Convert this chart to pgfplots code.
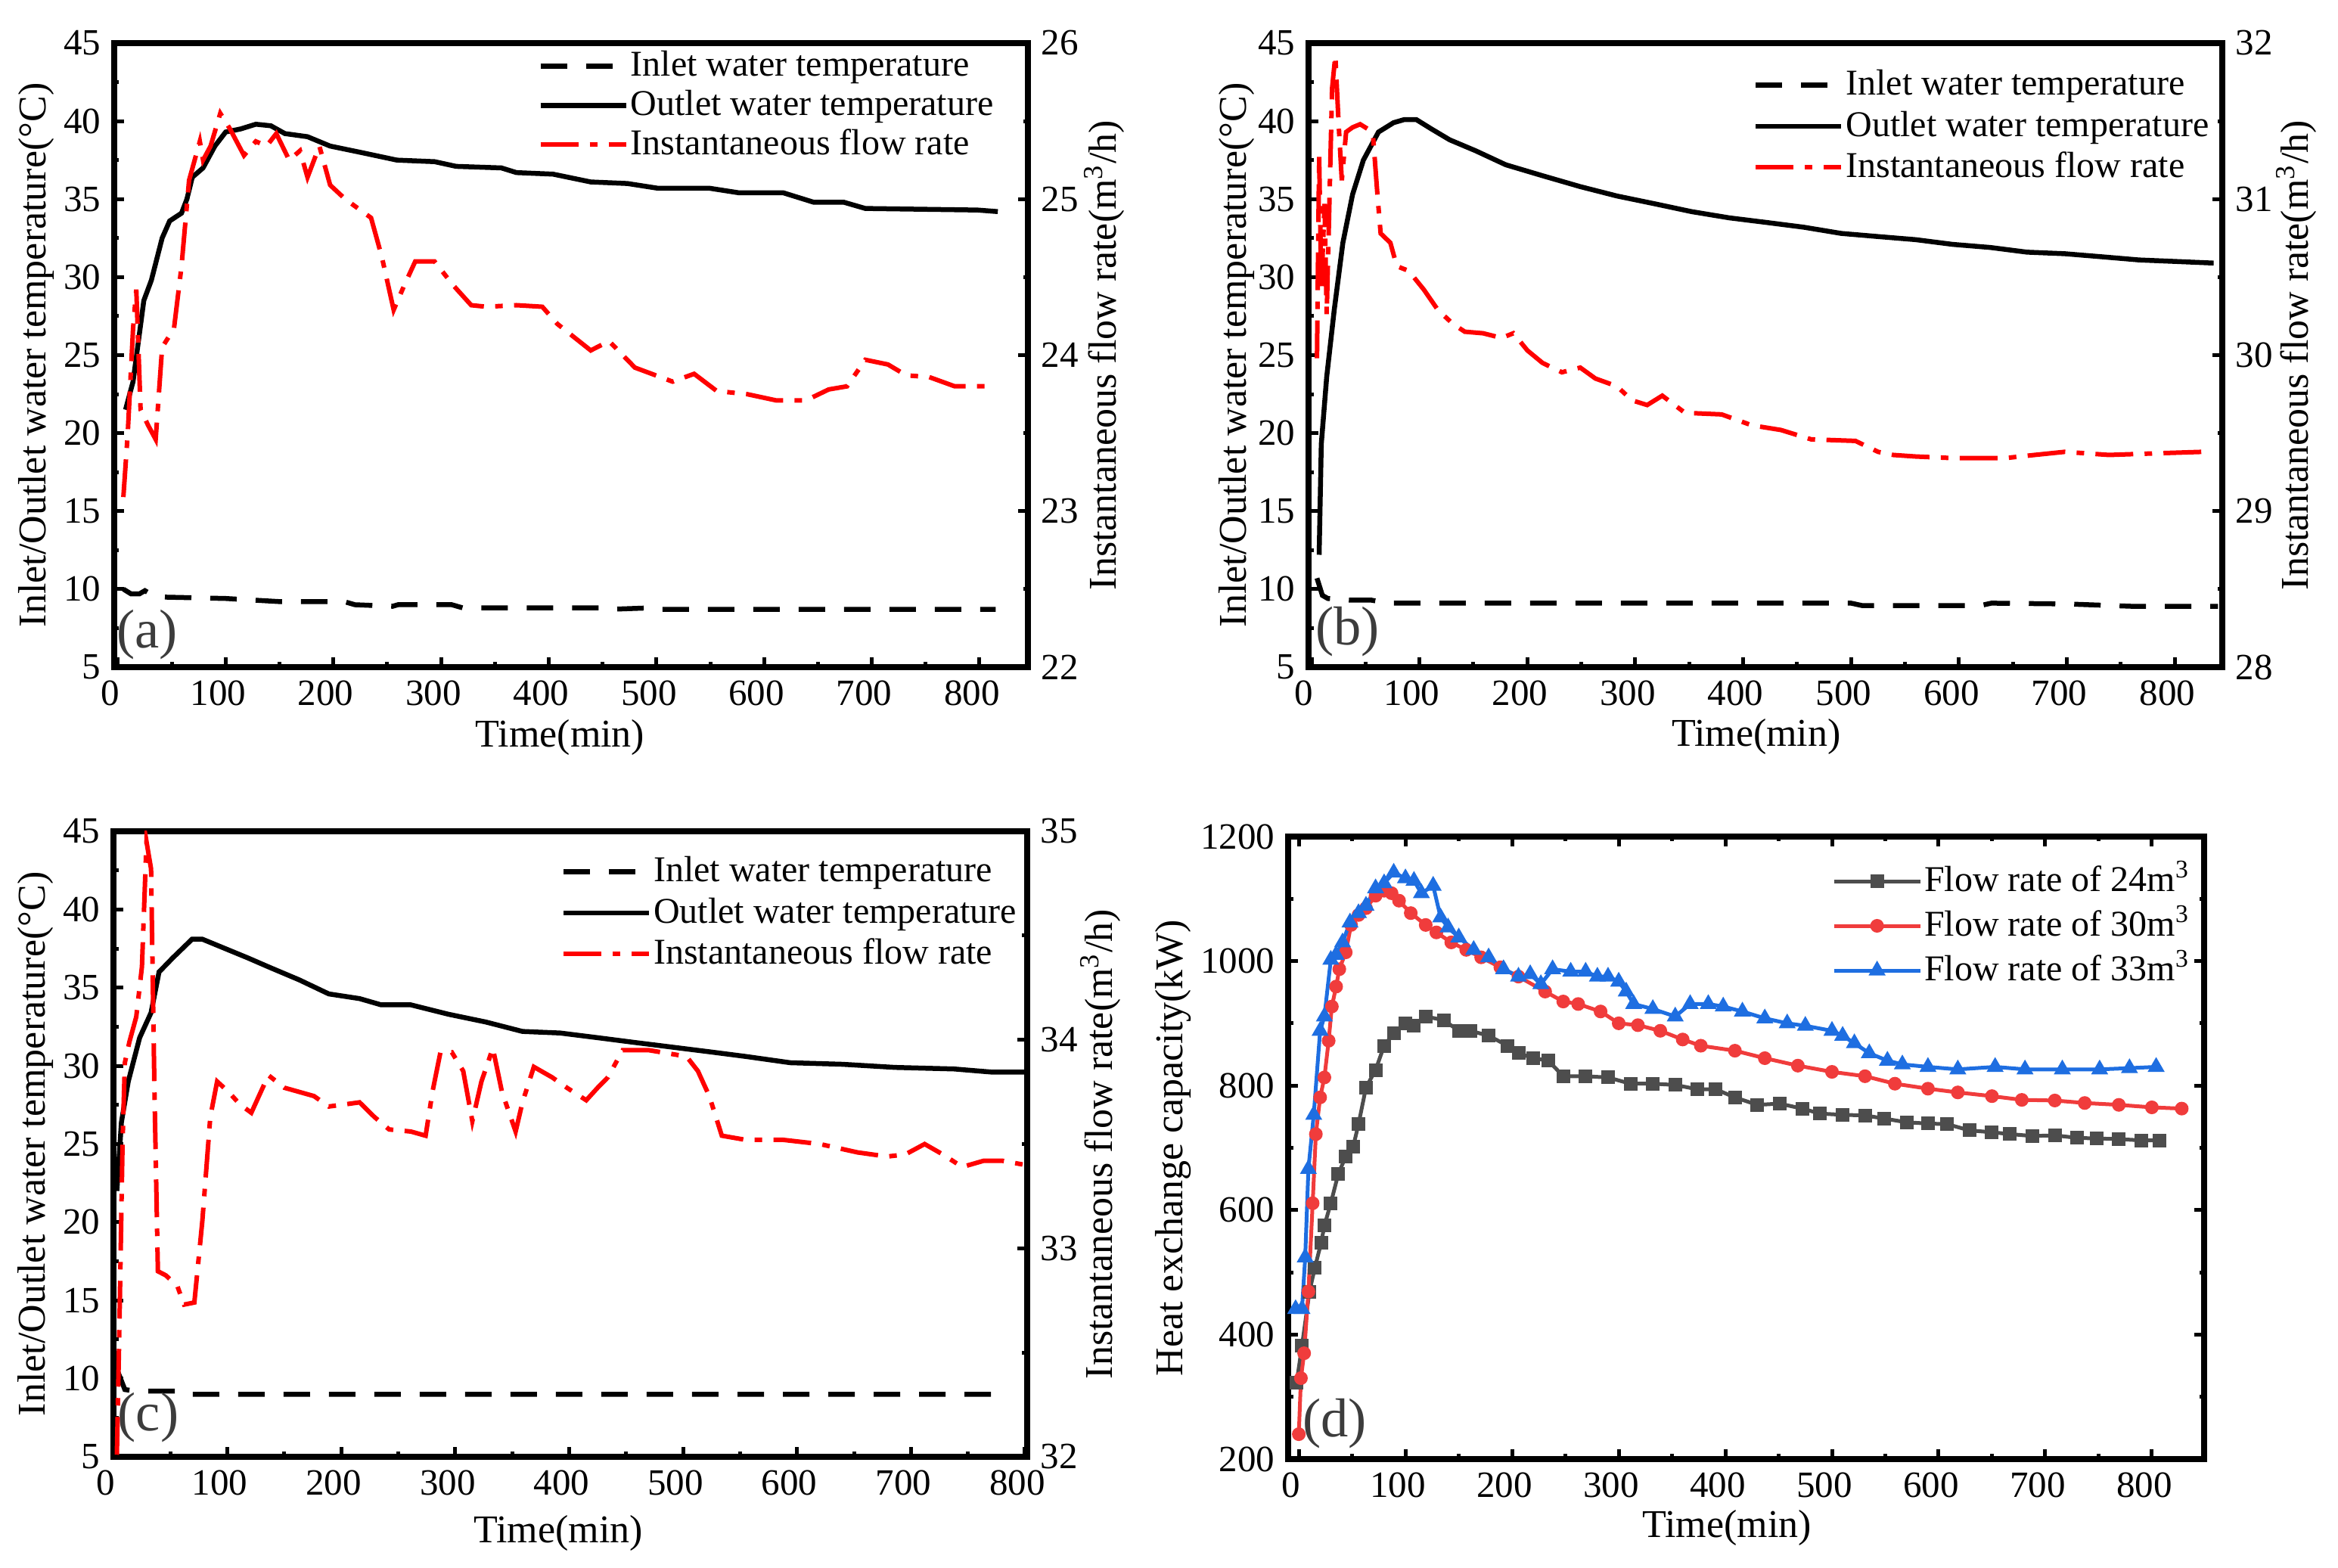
\documentclass[border=0pt]{standalone}
\usepackage{fontspec}
\setmainfont{Liberation Serif}
\usepackage{pgfplots}
\pgfplotsset{compat=1.18}

\definecolor{cgray}{RGB}{77,77,77}
\definecolor{cred}{RGB}{240,60,60}
\definecolor{cblue}{RGB}{30,110,225}
\definecolor{plab}{RGB}{60,60,60}

\tikzset{
  labfont/.style={font=\fontsize{10.4}{11}\selectfont},
  inletst/.style={black, line width=1.3pt, dash pattern=on 7pt off 5pt},
  outletst/.style={black, line width=1.3pt},
  flowst/.style={red, line width=1.2pt, dash pattern=on 10pt off 3pt on 2pt off 3pt},
}
\pgfplotsset{
  base/.style={
    scale only axis, width=241.6pt, height=165pt,
    axis line style={line width=1.5pt},
    every tick/.style={black, line width=1pt},
    major tick length=2.6pt, minor tick length=1.3pt,
    tick align=inside,
    /pgf/number format/assume math mode=true,
    /pgf/number format/1000 sep={},
    tick label style={font=\fontsize{9.8}{10}\selectfont},
    xticklabel style={xshift=-2pt},
    minor x tick num=1, minor y tick num=1,
  },
}

\begin{document}
\begin{tikzpicture}
\useasboundingbox (0,0) rectangle (618.2pt,414.6pt);

% ---------------- (a) ----------------
\begin{axis}[base, at={(30.2pt,238.2pt)}, anchor=south west,
  xmin=-3.5, xmax=845, ymin=5, ymax=45,
  xtick={0,100,...,800}, ytick={5,10,...,45},
  xtick pos=left, ytick pos=left,
  xlabel={Time(min)}, ylabel={Inlet/Outlet water temperature(°C)},
  every axis x label/.style={at={(axis description cs:0.488,-0.113)}, anchor=center, labfont},
  every axis y label/.style={at={(axis description cs:-0.0853,0.5)}, anchor=center, rotate=90, labfont},
  legend style={at={(axis description cs:0.463,0.9)}, anchor=west, draw=none, fill=none,
    font=\fontsize{9.6}{10}\selectfont, inner sep=0pt, row sep=0.2pt,
    nodes={inner sep=0.6pt, text height=7.2pt, text depth=1.8pt}},
  legend cell align=left,
  legend image code/.code={\draw[#1] (0pt,0pt) -- (22.6pt,0pt);},
]
\addplot[inletst] coordinates {(5,10.0) (12,9.7) (20,9.7) (25,9.9) (35,9.5) (100,9.4) (150,9.2) (210,9.2) (220,9.0) (255,8.9) (260,9.0) (310,9.0) (320,8.8) (450,8.8) (455,8.7) (495,8.8) (505,8.7) (815,8.7)};
\addlegendentry{Inlet water temperature}
\addplot[outletst] coordinates {(7,21.5) (14,23.3) (24,28.5) (31,29.8) (41,32.5) (48,33.6) (59,34.1) (64,35.0) (69,36.4) (79,37) (90,38.4) (100,39.3) (114,39.5) (128,39.8) (142,39.7) (155,39.2) (176,39.0) (197,38.4) (225,38.0) (259,37.5) (294,37.4) (314,37.1) (356,37.0) (370,36.7) (404,36.6) (425,36.3) (439,36.1) (473,36.0) (501,35.7) (549,35.7) (577,35.4) (618,35.4) (646,34.8) (674,34.8) (694,34.4) (798,34.3) (817,34.2)};
\addlegendentry{Outlet water temperature}
\addlegendimage{flowst}
\addlegendentry{Instantaneous flow rate}
\node[anchor=south west, inner sep=0pt, text=plab, font=\fontsize{14.5}{15}\selectfont] at (rel axis cs:0.002,0.011) {(a)};
\end{axis}
\begin{axis}[base, at={(30.2pt,238.2pt)}, anchor=south west,
  xmin=-3.5, xmax=845, ymin=22, ymax=26,
  ytick={22,23,24,25,26},
  axis x line=none, axis y line*=right, ytick pos=right,
  ylabel={Instantaneous flow rate(m\textsuperscript{3}/h)},
  every axis y label/.style={at={(axis description cs:1.0836,0.5)}, anchor=center, rotate=90, labfont},
]
\addplot[flowst] coordinates {(5,23.09) (9,23.49) (14,24.17) (17,24.42) (21,23.65) (28,23.55) (35,23.46) (41,24.05) (52,24.17) (59,24.57) (66,25.12) (76,25.37) (79,25.25) (86,25.34) (95,25.55) (104,25.45) (117,25.28) (128,25.37) (138,25.34) (147,25.42) (159,25.25) (169,25.31) (176,25.14) (187,25.34) (197,25.09) (211,25.0) (235,24.88) (245,24.63) (256,24.29) (266,24.45) (276,24.6) (294,24.6) (311,24.45) (328,24.32) (342,24.31) (370,24.32) (394,24.31) (408,24.2) (439,24.03) (456,24.09) (480,23.92) (515,23.83) (535,23.88) (556,23.77) (584,23.75) (611,23.71) (639,23.71) (660,23.78) (677,23.8) (694,23.97) (715,23.94) (732,23.87) (753,23.86) (777,23.8) (815,23.8)};
\end{axis}

% ---------------- (b) ----------------
\begin{axis}[base, at={(346pt,238.2pt)}, anchor=south west,
  xmin=-2.8, xmax=844, ymin=5, ymax=45,
  xtick={0,100,...,800}, ytick={5,10,...,45},
  xtick pos=left, ytick pos=left,
  xlabel={Time(min)}, ylabel={Inlet/Outlet water temperature(°C)},
  every axis x label/.style={at={(axis description cs:0.49,-0.112)}, anchor=center, labfont},
  every axis y label/.style={at={(axis description cs:-0.0786,0.5)}, anchor=center, rotate=90, labfont},
  legend style={at={(axis description cs:0.486,0.8667)}, anchor=west, draw=none, fill=none,
    font=\fontsize{9.6}{10}\selectfont, inner sep=0pt, row sep=0.7pt,
    nodes={inner sep=0.6pt, text height=7.2pt, text depth=1.8pt}},
  legend cell align=left,
  legend image code/.code={\draw[#1] (0pt,0pt) -- (22.6pt,0pt);},
]
\addplot[inletst] coordinates {(5,10.7) (10,9.6) (15,9.4) (35,9.3) (55,9.3) (70,9.1) (500,9.1) (510,8.95) (620,8.95) (630,9.1) (700,9.05) (760,8.9) (840,8.9)};
\addlegendentry{Inlet water temperature}
\addplot[outletst] coordinates {(7,12.2) (9,19.3) (14,23.6) (21,27.9) (29,32.2) (38,35.3) (48,37.5) (62,39.3) (76,39.9) (86,40.1) (97,40.1) (111,39.5) (128,38.8) (152,38.1) (180,37.2) (214,36.5) (249,35.8) (283,35.2) (318,34.7) (352,34.2) (387,33.8) (422,33.5) (456,33.2) (491,32.8) (525,32.6) (560,32.4) (594,32.1) (629,31.9) (663,31.6) (698,31.5) (733,31.3) (767,31.1) (802,31.0) (836,30.9)};
\addlegendentry{Outlet water temperature}
\addlegendimage{flowst}
\addlegendentry{Instantaneous flow rate}
\node[anchor=south west, inner sep=0pt, text=plab, font=\fontsize{14.5}{15}\selectfont] at (rel axis cs:0.0066,0.016) {(b)};
\end{axis}
\begin{axis}[base, at={(346pt,238.2pt)}, anchor=south west,
  xmin=-2.8, xmax=844, ymin=28, ymax=32,
  ytick={28,29,30,31,32},
  axis x line=none, axis y line*=right, ytick pos=right,
  ylabel={Instantaneous flow rate(m\textsuperscript{3}/h)},
  every axis y label/.style={at={(axis description cs:1.081,0.5)}, anchor=center, rotate=90, labfont},
]
\addplot[flowst] coordinates {(5,29.98) (7,31.28) (9,30.42) (12,30.97) (14,30.26) (17,31.12) (19,31.71) (22,31.92) (25,31.49) (28,31.12) (32,31.43) (38,31.46) (45,31.48) (52,31.45) (57,31.4) (61,31.03) (64,30.78) (73,30.72) (79,30.57) (90,30.54) (104,30.42) (117,30.29) (131,30.2) (142,30.15) (159,30.14) (176,30.11) (187,30.14) (200,30.03) (214,29.95) (232,29.89) (249,29.92) (263,29.85) (283,29.8) (297,29.71) (311,29.68) (325,29.74) (346,29.63) (380,29.62) (408,29.55) (435,29.52) (463,29.46) (504,29.45) (525,29.38) (539,29.36) (560,29.35) (594,29.34) (643,29.34) (670,29.36) (698,29.38) (739,29.36) (781,29.37) (826,29.38)};
\end{axis}

% ---------------- (c) ----------------
\begin{axis}[base, at={(30pt,29.4pt)}, anchor=south west, height=165.4pt,
  xmin=0, xmax=802, ymin=5, ymax=45,
  xtick={0,100,...,800}, ytick={5,10,...,45},
  xtick pos=left, ytick pos=left,
  xlabel={Time(min)}, ylabel={Inlet/Outlet water temperature(°C)},
  every axis x label/.style={at={(axis description cs:0.487,-0.122)}, anchor=center, labfont},
  every axis y label/.style={at={(axis description cs:-0.0853,0.5)}, anchor=center, rotate=90, labfont},
  legend style={at={(axis description cs:0.489,0.8694)}, anchor=west, draw=none, fill=none,
    font=\fontsize{9.6}{10}\selectfont, inner sep=0pt, row sep=0.7pt,
    nodes={inner sep=0.6pt, text height=7.2pt, text depth=1.8pt}},
  legend cell align=left,
  legend image code/.code={\draw[#1] (0pt,0pt) -- (22.6pt,0pt);},
]
\addplot[inletst] coordinates {(3,10.6) (10,9.3) (20,9.2) (60,9.2) (65,9.0) (785,9.0)};
\addlegendentry{Inlet water temperature}
\addplot[outletst] coordinates {(3,22) (7,26.4) (13,29) (23,31.8) (33,33.4) (40,36) (52,36.9) (69,38.1) (78,38.1) (98,37.5) (118,36.9) (137,36.3) (163,35.5) (189,34.6) (216,34.3) (235,33.9) (261,33.9) (294,33.3) (327,32.8) (359,32.2) (392,32.1) (425,31.8) (457,31.5) (490,31.2) (523,30.9) (555,30.6) (594,30.2) (640,30.1) (686,29.9) (738,29.8) (771,29.6) (800,29.6)};
\addlegendentry{Outlet water temperature}
\addlegendimage{flowst}
\addlegendentry{Instantaneous flow rate}
\node[anchor=south west, inner sep=0pt, text=plab, font=\fontsize{14.5}{15}\selectfont] at (rel axis cs:0.004,0.022) {(c)};
\end{axis}
\begin{axis}[base, at={(30pt,29.4pt)}, anchor=south west, height=165.4pt,
  xmin=0, xmax=802, ymin=32, ymax=35,
  ytick={32,33,34,35},
  axis x line=none, axis y line*=right, ytick pos=right,
  ylabel={Instantaneous flow rate(m\textsuperscript{3}/h)},
  every axis y label/.style={at={(axis description cs:1.080,0.5)}, anchor=center, rotate=90, labfont},
]
\addplot[flowst] coordinates {(3,32.01) (5,32.56) (8,33.51) (10,33.89) (14,33.99) (20,34.11) (25,34.35) (29,34.95) (33,34.82) (36,33.75) (39,32.89) (46,32.87) (56,32.82) (62,32.73) (71,32.74) (78,33.13) (85,33.63) (91,33.8) (101,33.75) (111,33.69) (121,33.65) (136,33.83) (150,33.77) (163,33.75) (176,33.73) (189,33.68) (203,33.69) (216,33.7) (229,33.63) (242,33.57) (261,33.56) (274,33.54) (280,33.75) (287,33.94) (297,33.94) (307,33.85) (315,33.61) (323,33.8) (333,33.96) (341,33.75) (353,33.56) (359,33.7) (369,33.87) (385,33.82) (398,33.77) (415,33.71) (425,33.77) (434,33.82) (447,33.95) (470,33.95) (503,33.92) (513,33.85) (523,33.73) (534,33.54) (555,33.52) (588,33.52) (620,33.5) (653,33.46) (679,33.44) (695,33.45) (712,33.5) (728,33.45) (745,33.39) (764,33.42) (780,33.42) (800,33.4)};
\end{axis}

% ---------------- (d) ----------------
\begin{axis}[base, at={(340.6pt,28.8pt)}, anchor=south west, width=242.2pt, height=164.6pt,
  xmin=-10, xmax=849, ymin=200, ymax=1200,
  xtick={0,100,...,800}, ytick={200,400,...,1200},
  xlabel={Time(min)}, ylabel={Heat exchange capacity(kW)},
  every axis x label/.style={at={(axis description cs:0.479,-0.11)}, anchor=center, labfont},
  every axis y label/.style={at={(axis description cs:-0.1255,0.5)}, anchor=center, rotate=90, labfont},
  legend style={at={(axis description cs:0.593,0.8566)}, anchor=west, draw=none, fill=none,
    font=\fontsize{9.6}{10}\selectfont, inner sep=0pt, row sep=1.6pt,
    nodes={inner sep=0.6pt, text height=7.2pt, text depth=1.8pt}},
  legend cell align=left,
  legend image code/.code={\draw[#1, mark repeat=2, mark phase=2] plot coordinates {(0pt,0pt) (11.4pt,0pt) (22.8pt,0pt)};},
]
\addplot[cgray, line width=1pt, mark=square*, mark size=1.3pt, mark options={solid}] coordinates {(-2,323) (3,382) (10,469) (15,507) (21,548) (24,575) (30,611) (37,658) (44,686) (51,702) (56,738) (63,797) (72,825) (80,864) (89,884) (100,900) (108,896) (119,911) (136,905) (150,888) (161,888) (178,880) (196,864) (206,852) (220,844) (234,840) (248,815) (269,815) (290,813) (311,803) (332,803) (353,801) (374,794) (391,794) (409,781) (430,769) (451,771) (472,763) (489,755) (510,753) (531,752) (549,747) (570,741) (590,739) (608,738) (629,728) (650,725) (667,722) (688,719) (709,720) (730,716) (748,715) (769,714) (790,712) (807,712)};
\addlegendentry{Flow rate of 24m\textsuperscript{3}}
\addplot[cred, line width=1pt, mark=*, mark size=1.3pt] coordinates {(0,240) (2,330) (5,370) (9,469) (13,611) (16,722) (20,781) (24,813) (28,872) (31,927) (35,959) (38,987) (44,1014) (49,1058) (56,1074) (63,1085) (72,1105) (80,1113) (87,1109) (94,1097) (105,1077) (119,1058) (129,1046) (143,1030) (157,1018) (171,1006) (189,990) (206,975) (231,951) (248,935) (262,931) (283,919) (300,900) (318,897) (339,888) (360,874) (377,864) (409,856) (437,844) (468,832) (500,822) (531,815) (559,803) (590,795) (618,789) (650,783) (678,777) (709,776) (737,772) (769,769) (800,765) (828,763)};
\addlegendentry{Flow rate of 30m\textsuperscript{3}}
\addplot[cblue, line width=1pt, mark=triangle*, mark size=1.6pt] coordinates {(-3,441) (3,441) (6,524) (9,666) (14,753) (20,888) (24,911) (30,1002) (35,1010) (41,1030) (48,1062) (56,1077) (63,1089) (72,1117) (80,1125) (89,1142) (100,1133) (108,1129) (115,1109) (126,1121) (133,1070) (140,1054) (150,1038) (164,1018) (178,1006) (192,987) (206,975) (217,979) (227,963) (238,987) (255,983) (269,983) (280,975) (290,975) (300,967) (307,951) (314,931) (332,923) (353,911) (367,931) (384,931) (398,927) (416,919) (437,908) (458,900) (475,896) (500,888) (510,880) (521,868) (535,852) (552,840) (566,834) (590,830) (618,826) (653,830) (681,826) (716,826) (751,826) (779,828) (804,830)};
\addlegendentry{Flow rate of 33m\textsuperscript{3}}
\node[anchor=south west, inner sep=0pt, text=plab, font=\fontsize{14.5}{15}\selectfont] at (rel axis cs:0.015,0.016) {(d)};
\end{axis}
\end{tikzpicture}
\end{document}
